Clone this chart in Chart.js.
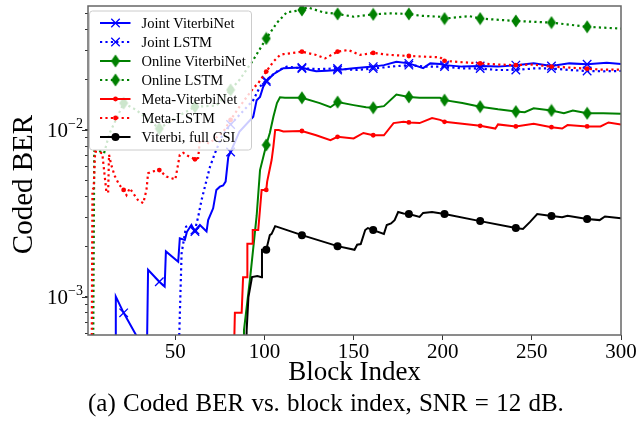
<!DOCTYPE html>
<html>
<head>
<meta charset="utf-8">
<script src="https://cdn.jsdelivr.net/npm/chart.js@4.4.0/dist/chart.umd.min.js"></script>
<style>
    html, body { margin: 0; padding: 0; background: #fff; }
    #wrap { position: relative; width: 637px; height: 428px; }
    #berChart { display: block; }
    #caption {
        position: absolute; left: 88px; top: 389px;
        font: 25px "Liberation Serif", "Times New Roman", serif;
        word-spacing: 1px;
        color: #000; white-space: nowrap;
    }
</style>
</head>
<body>
<div id="wrap">
    <canvas id="berChart" width="637" height="390"></canvas>
    <div id="caption">(a) Coded BER vs. block index, SNR = 12 dB.</div>
</div>
<script>
const xTicks = [50, 100, 150, 200, 250, 300];
const yDecades = [1e-3, 1e-2];

// block index / coded BER per scheme (values below the axis floor stand for zero-error stretches)
const jointVitBlock = [16.4, 16.6, 21, 29.5, 33.8, 34.7, 41, 44, 44.7, 51.6, 52.5, 55.3, 56.5, 59, 61, 63.8, 67.5, 68.4, 71.2, 73, 75, 76.8, 78.2, 79.7, 81, 86, 93.7, 95.6, 97.5, 99.3, 101, 105, 110.6, 121, 125.6, 129, 135, 141, 150, 161, 167, 174, 181, 189, 193, 198.5, 201, 211, 221, 231, 241, 251, 261, 271, 281, 292, 300];
const jointVitBer = [3e-4, 1.0e-3, 8.0e-4, 5.5e-4, 3e-4, 1.45e-3, 1.23e-3, 1.15e-3, 1.87e-3, 1.62e-3, 2.24e-3, 2.19e-3, 2.45e-3, 2.69e-3, 2.46e-3, 2.69e-3, 2.46e-3, 2.88e-3, 3.39e-3, 4.37e-3, 4.57e-3, 4.65e-3, 4.9e-3, 6.9e-3, 7.38e-3, 9.8e-3, 0.0120, 0.0151, 0.0158, 0.0182, 0.0195, 0.0216, 0.0235, 0.0237, 0.0229, 0.0225, 0.0227, 0.0229, 0.0235, 0.0240, 0.0245, 0.0257, 0.0251, 0.0235, 0.0251, 0.0249, 0.0245, 0.0240, 0.0242, 0.0240, 0.0245, 0.0251, 0.0242, 0.0251, 0.0248, 0.0253, 0.0249];

const jointLstmBlock = [51.4, 53.5, 56, 58, 61, 62.8, 64.7, 67.5, 69.4, 72.2, 76, 81, 93.7, 97.5, 101, 108, 112.5, 121, 131, 141, 151, 161, 171, 181, 191, 201, 211, 221, 231, 241, 251, 261, 271, 281, 290, 300];
const jointLstmBer = [3e-4, 1.82e-3, 2.63e-3, 2.68e-3, 2.51e-3, 3.01e-3, 3.8e-3, 5.0e-3, 6.0e-3, 7.25e-3, 9.1e-3, 0.0108, 0.0151, 0.0182, 0.0199, 0.0229, 0.0240, 0.0234, 0.0232, 0.0234, 0.0229, 0.0234, 0.0240, 0.0245, 0.0240, 0.0240, 0.0234, 0.0234, 0.0229, 0.0229, 0.0234, 0.0234, 0.0229, 0.0226, 0.0225, 0.0226];

const onlineVitBlock = [88, 88.5, 92, 95.6, 97.5, 101, 103, 105, 107, 108.7, 111.5, 121, 131, 137, 141, 150, 157, 161, 167, 174, 181, 187, 198.5, 201, 211, 221, 231, 241, 246, 251, 261, 268, 273, 281, 290, 300];
const onlineVitBer = [3e-4, 6.3e-4, 1.31e-3, 3.05e-3, 5.75e-3, 8.13e-3, 9.6e-3, 0.0120, 0.0145, 0.0157, 0.0156, 0.0156, 0.0145, 0.0137, 0.0147, 0.0141, 0.0137, 0.0136, 0.0139, 0.0163, 0.0158, 0.0156, 0.0156, 0.0151, 0.0145, 0.0138, 0.0133, 0.0129, 0.0128, 0.0135, 0.0131, 0.0126, 0.0131, 0.0126, 0.0126, 0.0125];

const onlineLstmBlock = [3.8, 4.5, 7, 10, 13, 21, 28, 41, 51, 61, 73, 81, 86, 93.7, 101, 107, 112.5, 121, 124, 133, 141, 150, 161, 170, 181, 187, 198.5, 201, 215, 221, 241, 261, 281, 300];
const onlineLstmBer = [3e-4, 7.45e-3, 7.5e-3, 7.25e-3, 9.5e-3, 0.0145, 0.0132, 0.0102, 0.0120, 0.0138, 0.0140, 0.0174, 0.0200, 0.0263, 0.0354, 0.0440, 0.0508, 0.0525, 0.0545, 0.0508, 0.0497, 0.0478, 0.0494, 0.0501, 0.0497, 0.0485, 0.0478, 0.0466, 0.0482, 0.0466, 0.0451, 0.0441, 0.0416, 0.0406];

const metaVitBlock = [82.5, 83.4, 87.2, 88, 90.2, 90.4, 93, 93.4, 96.5, 98.4, 101, 101.5, 104, 105, 106, 108, 110.6, 121, 129, 137, 141, 150, 155.5, 161, 167, 172.4, 178, 181, 187, 194, 198.5, 201, 211, 221, 229.5, 231, 241, 251, 261, 267, 270, 281, 288.5, 293, 300];
const metaVitBer = [3e-4, 8.0e-4, 8.0e-4, 1.31e-3, 1.31e-3, 2.08e-3, 2.08e-3, 2.51e-3, 2.51e-3, 4.37e-3, 4.37e-3, 4.9e-3, 6.6e-3, 7.95e-3, 0.0100, 0.0100, 0.0098, 0.00986, 0.0093, 0.0087, 0.0091, 0.0089, 0.0096, 0.0093, 0.0093, 0.0110, 0.0112, 0.0111, 0.0110, 0.0118, 0.0115, 0.0112, 0.0109, 0.0106, 0.0102, 0.0108, 0.0105, 0.0109, 0.0104, 0.0102, 0.0107, 0.0105, 0.0105, 0.0111, 0.0108];

const metaLstmBlock = [3, 3.5, 4.2, 5, 6.3, 9, 11.3, 12.3, 12.8, 14, 16, 18.5, 21, 22.6, 24.4, 29, 32, 33.8, 34.7, 36.6, 41, 45, 48, 50, 52.5, 54.4, 57, 61, 62.8, 63.8, 69, 77, 81, 86, 93.7, 96.5, 101, 105, 108.7, 110.6, 121, 129, 134, 141, 147, 153.6, 161, 170.5, 181, 191, 198.5, 201, 211, 221, 231, 241, 250, 261, 271, 281, 290, 300];
const metaLstmBer = [3e-4, 4.37e-3, 4.5e-3, 7.41e-3, 7.41e-3, 7.25e-3, 4.27e-3, 4.2e-3, 7.1e-3, 6.2e-3, 5.3e-3, 4.7e-3, 4.37e-3, 4.07e-3, 4.47e-3, 3.8e-3, 3.64e-3, 4.37e-3, 5.5e-3, 5.62e-3, 5.75e-3, 5.25e-3, 5.13e-3, 5.05e-3, 7.1e-3, 7.3e-3, 7.0e-3, 6.67e-3, 6.8e-3, 8.7e-3, 8.3e-3, 9.8e-3, 0.0115, 0.0138, 0.0178, 0.0191, 0.0224, 0.0257, 0.0282, 0.0285, 0.0295, 0.0282, 0.0269, 0.0295, 0.0302, 0.0282, 0.0290, 0.0282, 0.0278, 0.0275, 0.0273, 0.0260, 0.0255, 0.0251, 0.0247, 0.0245, 0.0247, 0.0240, 0.0237, 0.0233, 0.0230, 0.0230];

const fullCsiBlock = [89.5, 90, 91, 93, 96, 98.4, 98.6, 101, 103, 104, 106, 121, 141, 150.5, 152, 154, 156.5, 158, 161, 167, 168.6, 171, 173, 175, 178, 181, 187, 189, 194, 201, 221, 241, 245, 249, 253, 261, 267, 270, 281, 288, 291, 300];
const fullCsiBer = [3e-4, 6.3e-4, 9.95e-4, 1.31e-3, 1.33e-3, 1.31e-3, 1.91e-3, 1.91e-3, 2.34e-3, 2.38e-3, 2.65e-3, 2.34e-3, 2.01e-3, 1.91e-3, 2.05e-3, 2.07e-3, 2.51e-3, 2.58e-3, 2.51e-3, 2.38e-3, 2.69e-3, 2.75e-3, 2.88e-3, 3.22e-3, 3.16e-3, 3.13e-3, 3.01e-3, 3.18e-3, 3.22e-3, 3.13e-3, 2.84e-3, 2.58e-3, 2.55e-3, 2.81e-3, 3.13e-3, 3.05e-3, 3.0e-3, 3.06e-3, 2.92e-3, 2.88e-3, 3.03e-3, 2.95e-3];

const SERIF = '"Liberation Serif", "Times New Roman", serif';
const BLUE = '#0000ff', GREEN = '#008000', RED = '#ff0000', BLACK = '#000000';
const DOTS = [2.2, 3.2];

// tall thin diamond, as a canvas point style
function thinDiamond(color) {
    const c = document.createElement('canvas');
    c.width = 10; c.height = 14;
    const g = c.getContext('2d');
    g.fillStyle = color;
    g.beginPath();
    g.moveTo(5, 0.5); g.lineTo(9.5, 7); g.lineTo(5, 13.5); g.lineTo(0.5, 7);
    g.closePath();
    g.fill();
    return c;
}
const greenDiamond = thinDiamond(GREEN);

// a marker every 20 blocks
const onMarker = (c) => c.raw && (c.raw.x - 1) % 20 === 0;

function series(label, xs, ys, color, dashed, pointStyle, markerSize, order) {
    return {
        label,
        data: xs.map((x, i) => ({ x, y: ys[i] })),
        borderColor: color,
        backgroundColor: color,
        borderWidth: dashed ? 2.2 : 2,
        borderDash: dashed ? DOTS : [],
        pointStyle,
        markerSize,
        pointRadius: (c) => onMarker(c) ? markerSize : 0,
        pointBackgroundColor: color,
        pointBorderColor: color,
        pointBorderWidth: pointStyle === 'crossRot' ? 1.3 : 0,
        tension: 0,
        fill: false,
        order
    };
}

const datasets = [
    series('Joint ViterbiNet', jointVitBlock, jointVitBer, BLUE, false, 'crossRot', 6, 7),
    series('Joint LSTM', jointLstmBlock, jointLstmBer, BLUE, true, 'crossRot', 6, 6),
    series('Online ViterbiNet', onlineVitBlock, onlineVitBer, GREEN, false, greenDiamond, 5, 5),
    series('Online LSTM', onlineLstmBlock, onlineLstmBer, GREEN, true, greenDiamond, 5, 4),
    series('Meta-ViterbiNet', metaVitBlock, metaVitBer, RED, false, 'circle', 2.4, 3),
    series('Meta-LSTM', metaLstmBlock, metaLstmBer, RED, true, 'circle', 2.4, 2),
    series('Viterbi, full CSI', fullCsiBlock, fullCsiBer, BLACK, false, 'circle', 4, 1)
];

// legend box in the upper left corner of the plot
const insideLegend = {
    id: 'insideLegend',
    afterDatasetsDraw(chart) {
        const { ctx, chartArea: a } = chart;
        const x0 = a.left + 1.5, y0 = a.top + 5, w = 162, h = 139;
        ctx.save();
        ctx.beginPath();
        ctx.roundRect(x0, y0, w, h, 3);
        ctx.fillStyle = 'rgba(255,255,255,0.8)';
        ctx.fill();
        ctx.strokeStyle = '#cccccc';
        ctx.lineWidth = 1;
        ctx.stroke();
        chart.data.datasets.forEach((ds, i) => {
            const cy = y0 + 12 + i * 19;
            ctx.setLineDash(ds.borderDash);
            ctx.strokeStyle = ds.borderColor;
            ctx.lineWidth = ds.borderWidth;
            ctx.beginPath();
            ctx.moveTo(x0 + 10.5, cy);
            ctx.lineTo(x0 + 41, cy);
            ctx.stroke();
            ctx.setLineDash([]);
            ctx.fillStyle = ds.pointBackgroundColor;
            ctx.strokeStyle = ds.pointBorderColor;
            ctx.lineWidth = ds.pointBorderWidth;
            Chart.helpers.drawPoint(ctx, {
                pointStyle: ds.pointStyle, radius: ds.markerSize,
                borderWidth: ds.pointBorderWidth, rotation: 0
            }, x0 + 26, cy);
            ctx.fillStyle = '#000';
            ctx.font = `14.5px ${SERIF}`;
            ctx.textAlign = 'left';
            ctx.textBaseline = 'middle';
            ctx.fillText(ds.label, x0 + 52, cy + 1);
        });
        ctx.restore();
    }
};

// y title, powers of ten on the y axis, longer major ticks, and the frame round the plot
const frameAndDecades = {
    id: 'frameAndDecades',
    afterDraw(chart) {
        const { ctx, chartArea: a, scales: { y } } = chart;
        ctx.save();
        ctx.fillStyle = '#000';

        ctx.save();
        ctx.translate(24, (a.top + a.bottom) / 2 + 14);
        ctx.rotate(-Math.PI / 2);
        ctx.font = `29px ${SERIF}`;
        ctx.textAlign = 'center';
        ctx.textBaseline = 'middle';
        ctx.fillText('Coded BER', 0, 0);
        ctx.restore();

        ctx.textAlign = 'right';
        ctx.textBaseline = 'middle';
        yDecades.forEach((v) => {
            const py = Math.round(y.getPixelForValue(v)) + 0.5;
            ctx.strokeStyle = '#333';
            ctx.lineWidth = 1;
            ctx.beginPath();
            ctx.moveTo(a.left - 6, py);
            ctx.lineTo(a.left, py);
            ctx.stroke();
            const exp = '\u2212' + Math.abs(Math.round(Math.log10(v)));
            const right = a.left - 5;
            ctx.font = `14px ${SERIF}`;
            const expW = ctx.measureText(exp).width;
            ctx.fillText(exp, right, py - 6);
            ctx.font = `21px ${SERIF}`;
            ctx.fillText('10', right - expW, py + 1);
        });
        ctx.strokeStyle = '#666';
        ctx.lineWidth = 1.5;
        ctx.strokeRect(a.left, a.top, a.right - a.left, a.bottom - a.top);
        ctx.restore();
    }
};

new Chart(document.getElementById('berChart'), {
    type: 'line',
    data: { datasets },
    options: {
        responsive: false,
        animation: false,
        layout: { padding: { top: 6, right: 16, bottom: 0, left: 0 } },
        plugins: { legend: { display: false }, tooltip: { enabled: false } },
        scales: {
            x: {
                type: 'linear',
                min: 1,
                max: 300,
                afterBuildTicks: (s) => { s.ticks = xTicks.map((v) => ({ value: v })); },
                afterFit: (s) => { s.height = 55; },
                grid: { drawOnChartArea: false, tickLength: 5, color: '#333' },
                border: { display: false },
                ticks: { font: { family: SERIF, size: 21 }, color: '#000', padding: 0, maxRotation: 0 },
                title: {
                    display: true, text: 'Block Index', color: '#000',
                    font: { family: SERIF, size: 27 }, padding: { top: 0, bottom: 1 }
                }
            },
            y: {
                type: 'logarithmic',
                min: 5.89e-4,
                max: 0.05545,
                afterBuildTicks: (s) => {
                    s.ticks = s.ticks.filter((t) => {
                        const m = t.value / Math.pow(10, Math.floor(Math.log10(t.value) + 1e-9));
                        return Math.abs(m - Math.round(m)) < 1e-6;
                    });
                },
                afterFit: (s) => { s.width = 88; },
                grid: { drawOnChartArea: false, tickLength: 3, color: '#333' },
                border: { display: false },
                ticks: { callback: () => '', font: { family: SERIF, size: 1 }, padding: 0 }
            }
        }
    },
    plugins: [insideLegend, frameAndDecades]
});
</script>
</body>
</html>
